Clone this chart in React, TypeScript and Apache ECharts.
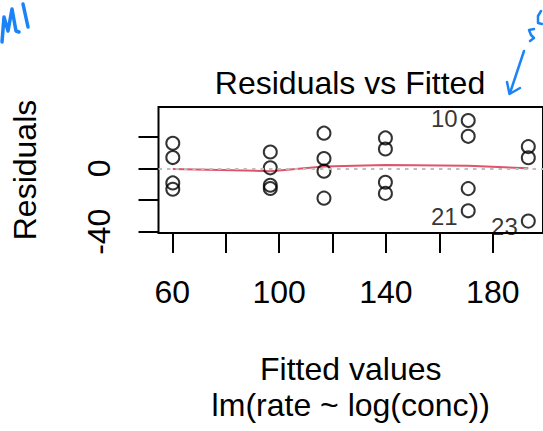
import React, { useEffect, useRef } from "react";
import * as echarts from "echarts";

// ---- data ----
const fittedVals = [
  60.2, 60.2, 96.7, 96.7, 116.8, 116.8, 139.8, 139.8, 170.8, 170.8, 193.3, 193.3,
  60.2, 60.2, 96.7, 96.7, 116.8, 116.8, 139.8, 139.8, 170.8, 170.8, 193.3,
];
const residualVals = [
  15.8, -13.2, 0.3, 10.3, 6.2, 22.2, 19.2, 12.2, 20.2, 30.2, 13.7, 6.7,
  6.8, -9.2, -12.7, -10.7, -18.8, -1.8, -8.8, -15.8, -26.8, -12.8, -33.3,
];
const smoothX = [60.2, 96.7, 116.8, 139.8, 170.8, 193.3];
const smoothY = [-0.4, -1.8, 1.2, 2.1, 1.7, 0.0];
const labelledRows = [10, 21, 23];
const labelOffsetsY = [-2, 6, 5];
const xTicks = [60, 80, 100, 120, 140, 160, 180];
const xTickLabels = [60, 100, 140, 180];
const yTicks = [-40, -20, 0, 20];
const yTickLabels = [-40, 0];

const FONT = '"Liberation Sans", Arial, Helvetica, sans-serif';
const INK = "#1a84f6";

export default function App() {
  const ref = useRef<HTMLDivElement>(null);
  useEffect(() => {
    document.body.style.margin = "0";
    const chart = echarts.init(ref.current as HTMLDivElement, null, { renderer: "svg" });

    const scatterData = fittedVals.map((x, i) => {
      const row = i + 1;
      const idx = labelledRows.indexOf(row);
      const item: any = { value: [x, residualVals[i]] };
      if (idx >= 0) {
        item.label = {
          show: true,
          formatter: String(row),
          position: "left",
          distance: 3,
          offset: [0, labelOffsetsY[idx]],
          fontSize: 24,
          fontFamily: FONT,
          color: "#000",
        };
      }
      return item;
    });

    const option: any = {
      animation: false,
      backgroundColor: "#fff",
      grid: {
        left: 158.5,
        top: 107,
        width: 386,
        height: 126,
        show: true,
        borderColor: "#000",
        borderWidth: 2,
        backgroundColor: "transparent",
      },
      xAxis: {
        type: "value",
        min: 54.85,
        max: 198.8,
        axisLine: { show: false, onZero: false },
        splitLine: { show: false },
        axisTick: {
          show: true,
          customValues: xTicks,
          length: 20,
          lineStyle: { color: "#000", width: 2 },
        },
        axisLabel: {
          customValues: xTickLabels,
          margin: 43,
          fontSize: 32,
          color: "#000",
          fontFamily: FONT,
        },
        name: "Fitted values\nlm(rate ~ log(conc))",
        nameLocation: "middle",
        nameGap: 118,
        nameTextStyle: { fontSize: 32, lineHeight: 36, color: "#000", fontFamily: FONT },
      },
      yAxis: {
        type: "value",
        min: -40.8,
        max: 38.7,
        axisLine: { show: false, onZero: false },
        splitLine: { show: false },
        axisTick: {
          show: true,
          customValues: yTicks,
          length: 20,
          lineStyle: { color: "#000", width: 2 },
        },
        axisLabel: {
          customValues: yTickLabels,
          rotate: 90,
          margin: 44,
          fontSize: 32,
          color: "#000",
          fontFamily: FONT,
        },
        name: "Residuals",
        nameLocation: "middle",
        nameRotate: 90,
        nameGap: 118,
        nameTextStyle: { fontSize: 32, color: "#000", fontFamily: FONT },
      },
      series: [
        {
          type: "line",
          data: [],
          z: 1,
          markLine: {
            silent: true,
            symbol: ["none", "none"],
            label: { show: false },
            lineStyle: { color: "#BEBEBE", width: 2, type: [3.5, 5] },
            data: [{ yAxis: 0 }],
          },
        },
        {
          type: "line",
          data: smoothX.map((x, i) => [x, smoothY[i]]),
          showSymbol: false,
          symbol: "none",
          z: 2,
          lineStyle: { color: "#DF536B", width: 2 },
        },
        {
          type: "scatter",
          z: 3,
          symbol: "circle",
          symbolSize: 13,
          itemStyle: { color: "transparent", borderColor: "#000", borderWidth: 2 },
          data: scatterData,
        },
      ],
      graphic: [
        {
          type: "text",
          x: 350,
          y: 83,
          style: {
            text: "Residuals vs Fitted",
            font: `32px ${FONT}`,
            fill: "#000",
            align: "center",
            verticalAlign: "middle",
            textAlign: "center",
            textVerticalAlign: "middle",
          },
        },
        // handwritten blue ink marks
        {
          type: "polyline",
          shape: { points: [[2, 42], [4, 17], [8, 31], [12, 9], [16, 31], [19, 32]] },
          style: { stroke: INK, lineWidth: 3.5, fill: "none", lineCap: "round", lineJoin: "round" },
        },
        {
          type: "polyline",
          shape: { points: [[23, 4], [28, 27]] },
          style: { stroke: INK, lineWidth: 3.5, fill: "none", lineCap: "round" },
        },
        {
          type: "polyline",
          shape: { points: [[534, 29], [529, 30], [531, 35], [534, 38], [530, 41]] },
          style: { stroke: INK, lineWidth: 2.5, fill: "none", lineCap: "round", lineJoin: "round" },
        },
        {
          type: "polyline",
          shape: { points: [[541, 11], [538, 16], [538, 23], [542, 24]] },
          style: { stroke: INK, lineWidth: 2.5, fill: "none", lineCap: "round", lineJoin: "round" },
        },
        {
          type: "polyline",
          shape: { points: [[524, 51], [510, 93]] },
          style: { stroke: INK, lineWidth: 2.5, fill: "none", lineCap: "round" },
        },
        {
          type: "polyline",
          shape: { points: [[507, 82], [509.5, 94], [520, 88]] },
          style: { stroke: INK, lineWidth: 2.5, fill: "none", lineCap: "round", lineJoin: "round" },
        },
      ],
    };
    chart.setOption(option);
    return () => chart.dispose();
  }, []);
  return <div ref={ref} style={{ position: "fixed", left: 0, top: 0, width: 543, height: 431 }} />;
}
